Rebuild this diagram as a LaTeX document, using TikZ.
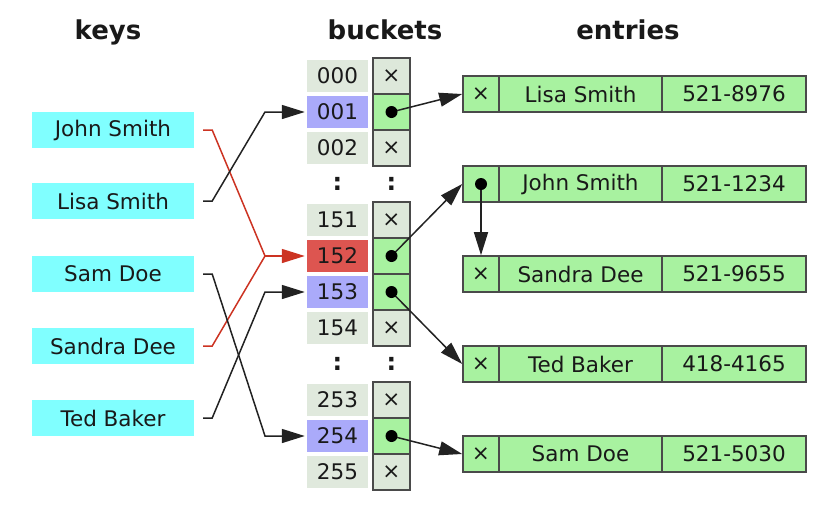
\documentclass[tikz,border=0pt]{standalone}
\usepackage{fontspec}
\setmainfont{DejaVu Sans}
\usetikzlibrary{arrows.meta,calc}
\definecolor{keycyan}{HTML}{80FFFF}
\definecolor{idxgray}{HTML}{E0E9DD}
\definecolor{idxblue}{HTML}{AAAAFA}
\definecolor{idxred}{HTML}{DD5550}
\definecolor{ptrgray}{HTML}{DDE8DA}
\definecolor{ptrgreen}{HTML}{A8F2A0}
\definecolor{bord}{HTML}{4A4A4A}
\definecolor{lnk}{HTML}{222222}
\definecolor{redlnk}{HTML}{CC3322}
\newcommand\fsz{\fontsize{21.5}{24}\selectfont}
\begin{document}
\begin{tikzpicture}[x=1pt,y=-1pt,
  every node/.style={font=\fsz, text=black!90},
  head/.style={font=\fontsize{26}{30}\selectfont\bfseries, anchor=base},
  keybox/.style={fill=keycyan, minimum width=162pt, minimum height=36pt, inner sep=0pt},
  idx/.style={minimum width=61pt, minimum height=32pt, inner sep=0pt},
  ptr/.style={draw=bord, line width=1.6pt, fill=ptrgray, minimum width=37pt, minimum height=36pt, inner sep=0pt},
  ent/.style={draw=bord, line width=1.6pt, fill=ptrgreen, minimum height=36pt, inner sep=0pt},
  keyline/.style={draw=lnk, line width=1.5pt, -{Triangle[length=23pt,width=14pt]}, shorten >=2pt},
  redline/.style={draw=redlnk, line width=1.5pt},
  ptrarrow/.style={draw=lnk, line width=1.5pt, -{Triangle[length=23pt,width=14pt]}},
  dot/.style={fill=black},
  colon/.style={font=\fontsize{24}{26}\selectfont\bfseries}
]
\useasboundingbox (0,0) rectangle (830,528);

% headings
\node[head] (hk) at (108,39) {keys};
\node[head] (hb) at (385,39) {buckets};
\node[head] (he) at (628,39) {entries};

% keys
\node[keybox] (kJ) at (113,130) {John Smith};
\node[keybox] (kL) at (113,201) {Lisa Smith};
\node[keybox] (kS) at (113,274) {Sam Doe};
\node[keybox] (kD) at (113,346) {Sandra Dee};
\node[keybox] (kT) at (113,418) {Ted Baker};

% buckets
\foreach \lab/\k/\c/\p in {000/0/idxgray/0, 001/1/idxblue/1, 002/2/idxgray/0,
    151/4/idxgray/0, 152/5/idxred/1, 153/6/idxblue/1, 154/7/idxgray/0,
    253/9/idxgray/0, 254/10/idxblue/1, 255/11/idxgray/0} {
  \node[idx, fill=\c] (i\lab) at (337.5,76+36*\k) {\lab};
  \ifnum\p=1
    \node[ptr, fill=ptrgreen] (p\lab) at (391.5,76+36*\k) {};
  \else
    \node[ptr] (p\lab) at (391.5,76+36*\k) {×};
  \fi
}
\node[colon] (c1) at (337.5,184) {:};
\node[colon] (c2) at (391.5,184) {:};
\node[colon] (c3) at (337.5,364) {:};
\node[colon] (c4) at (391.5,364) {:};

% entries
\foreach \n/\y/\name/\tel/\p in {L/94/Lisa Smith/521-8976/0, J/184/John Smith/521-1234/1,
    D/274/Sandra Dee/521-9655/0, T/364/Ted Baker/418-4165/0, S/454/Sam Doe/521-5030/0} {
  \node[ent, minimum width=163pt] (e\n n) at (580.5,\y) {\name};
  \node[ent, minimum width=144pt] (e\n p) at (734,\y) {\tel};
  \ifnum\p=1
    \node[ent, minimum width=36pt] (e\n x) at (481,\y) {};
  \else
    \node[ent, minimum width=36pt] (e\n x) at (481,\y) {×};
  \fi
}

% key connectors
\coordinate (jL) at (265,112);
\coordinate (jR) at (265,256);
\coordinate (jT) at (265,292);
\coordinate (jS) at (265,436);
\draw[redline] ([xshift=9pt]kJ.east) -- ++(9,0) -- (jR);
\draw[redline] ([xshift=9pt]kD.east) -- ++(9,0) -- (jR);
\draw[keyline, draw=redlnk, fill=redlnk] (jR) -- (i152.west);
\draw[keyline] ([xshift=9pt]kL.east) -- ++(9,0) -- (jL) -- (i001.west);
\draw[keyline] ([xshift=9pt]kS.east) -- ++(9,0) -- (jS) -- (i254.west);
\draw[keyline] ([xshift=9pt]kT.east) -- ++(9,0) -- (jT) -- (i153.west);

% pointer connectors
\draw[ptrarrow] (p001.center) -- (eLx.west);
\draw[ptrarrow] (p152.center) -- (eJx.west);
\draw[ptrarrow] (p153.center) -- (eTx.west);
\draw[ptrarrow] (p254.center) -- (eSx.west);
\draw[ptrarrow] (eJx.center) -- (eDx.north);

\foreach \d in {p001,p152,p153,p254,eJx} \fill[dot] (\d.center) circle (6);
\end{tikzpicture}
\end{document}
